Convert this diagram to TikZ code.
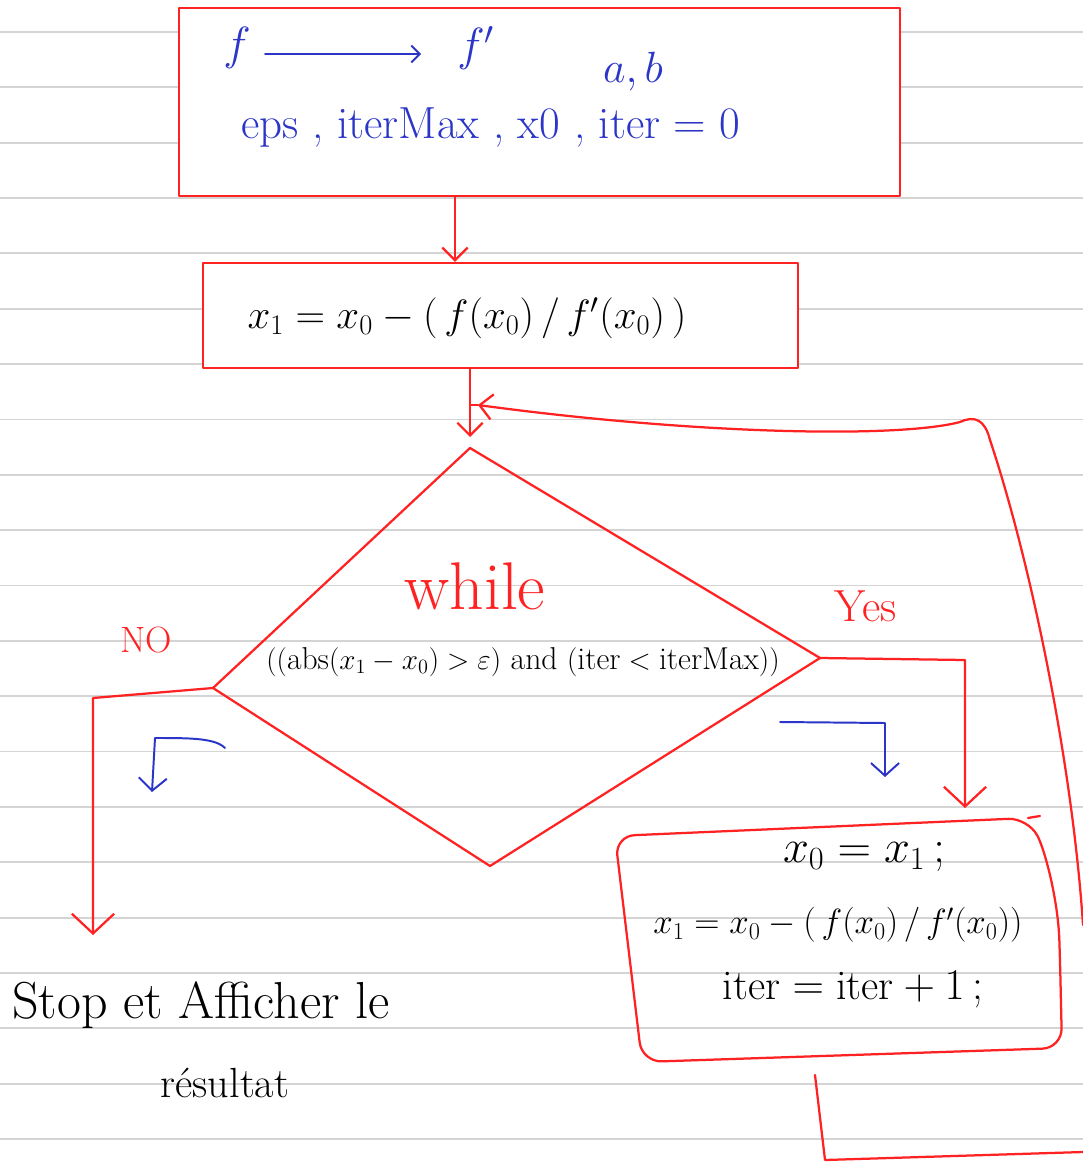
\documentclass[tikz,border=0pt]{standalone}
\usepackage{fontspec}
\usepackage{graphicx}
\usetikzlibrary{arrows.meta,calc}
\definecolor{pen}{HTML}{FF2222}
\definecolor{ink}{HTML}{2B35C8}
\definecolor{rule}{HTML}{D4D4D4}
\begin{document}
\begin{tikzpicture}[x=0.025cm,y=-0.025cm,
  redline/.style={draw=pen,line width=1.6pt,line join=round,line cap=round},
  blueline/.style={draw=ink,line width=1.4pt,line join=round,line cap=round},
  bigtip/.style={-{Straight Barb[length=14pt,width=30pt,line width=1.6pt]}},
  smalltip/.style={-{Straight Barb[length=9pt,width=18pt,line width=1.6pt]}},
  bluetip/.style={-{Straight Barb[length=9pt,width=20pt,line width=1.4pt]}},
  boxstyle/.style={redline,rectangle,inner sep=0pt},
  hand/.style={font=\fontsize{24}{28}\selectfont,inner sep=0pt},
  fs/.style={font=\fontsize{#1}{#1}\selectfont},
  blue text/.style={hand,text=ink},
  red text/.style={hand,text=pen}]
\useasboundingbox (0,0) rectangle (1083,1162);
\fill[white] (0,0) rectangle (1083,1162);
% ruled paper
\foreach \k in {0,...,20}
  \draw[rule,line width=1.3pt] (0,{32+55.35*\k}) -- (1083,{32+55.35*\k});

% box 1
\node[boxstyle,fill=white,minimum width=18.025cm,minimum height=4.7cm] (b1) at (539.5,102) {};
\node[blue text] (tf) at (237,48) {\scalebox{1.33}{$f$}};
\node[blue text] (tfp) at (476,48) {\scalebox{1.33}{$f'$}};
\draw[blueline,-{Straight Barb[length=6pt,width=12pt,line width=1.4pt]}] ($(tf.east)+(14,6)$) -- ($(tfp.west)+(-36,6)$);
\node[blue text] (tab) at (633,72) {\scalebox{1.25}{$a,b$}};
\node[blue text,fs=32] (tin) at (491,128) {eps , iterMax , x0 , iter = 0};

% box 2
\node[boxstyle,fill=white,minimum width=14.875cm,minimum height=2.625cm] (b2) at (500.5,315.5) {};
\node[hand] (t2) at (467,318) {\scalebox{1.17}{$x_1 = x_0 - \bigl(\,f(x_0)\,/\,f'(x_0)\,\bigr)$}};
\draw[redline,smalltip] (b1.south -| 455,0) -- (b2.north -| 455,0);

% diamond
\coordinate (dtop) at (470,448);
\coordinate (dleft) at (213,688);
\coordinate (dright) at (820,658);
\coordinate (dbot) at (490,866);
\draw[redline] (dtop) -- (dright) -- (dbot) -- (dleft) -- cycle;
\node[red text,fs=48] (twhile) at (475,586) {while};
\node[hand,fs=22.5] (tcond) at (523,662) {$\bigl(\bigl(\mathrm{abs}(x_1 - x_0) > \varepsilon\bigr)$ and $\bigl(\mathrm{iter} < \mathrm{iterMax}\bigr)\bigr)$};

\coordinate (j) at (470,405);
\draw[redline] (b2.south -| 470,0) -- (j);
\draw[redline,smalltip] (j) -- (470,437);

% NO branch
\node[red text,fs=26] (tno) at (146,640) {NO};
\coordinate (noend) at (93,935);
\draw[redline,bigtip] (dleft) -- (93,698) -- (noend);
\draw[blueline,bluetip] (225,748) .. controls (215,738) and (190,738) .. (155,738) -- (152,792);

% stop text
\node[hand,fs=37,anchor=west] (tstop) at (12,1005) {Stop et Afficher le};
\node[hand,fs=30] (tres) at (225,1083) {résultat};

% YES branch
\node[red text,fs=32] (tyes) at (866,606) {Yes};
\coordinate (yesend) at (965,808);
\draw[redline,bigtip] (dright) -- (965,660) -- (yesend);
\draw[blueline,bluetip] (780,722) -- (885,723) -- (885,777);

% right box
\coordinate (r1) at (615,836);
\coordinate (r2) at (1028,818);
\coordinate (r3) at (1062,1048);
\coordinate (r4) at (642,1062);
\draw[redline,rounded corners=14pt] (r1) -- (r2) .. controls (1045,850) and (1058,900) .. (1060,960) -- (r3) -- (r4) -- cycle;
\draw[redline] (r2) -- (1040,816);
\node[hand] (tr1) at (864,857) {\scalebox{1.33}{$x_0 = x_1\,;$}};
\node[hand] (tr2) at (838,925) {$x_1 = x_0 - \bigl(\,f(x_0)\,/\,f'(x_0)\bigr)$};
\node[hand] (tr3) at (853,990) {\scalebox{1.25}{$\mathrm{iter} = \mathrm{iter} + 1\,;$}};

% loop back
\coordinate (bout) at (815,1075);
\draw[redline] (bout) -- (825,1160) -- (1083,1152);
\draw[redline,smalltip] (1083,925) .. controls (1072,760) and (1030,560) .. (990,440)
  .. controls (985,420) and (975,415) .. (960,422)
  .. controls (900,438) and (700,435) .. (478,405);
\draw[redline] (478,405) -- (j);
\end{tikzpicture}
\end{document}
